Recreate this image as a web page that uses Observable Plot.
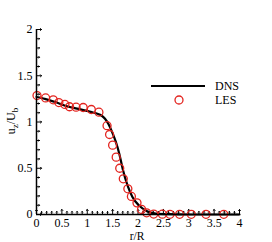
<!DOCTYPE html>
<html><head><meta charset="utf-8">
<script src="https://cdn.jsdelivr.net/npm/d3@7"></script>
<script src="https://cdn.jsdelivr.net/npm/@observablehq/plot@0.6"></script>
<style>body{margin:0;background:#fff}</style>
</head><body><div id="chart"></div>
<script>
const dnsR = [0, 0.1, 0.2, 0.4, 0.6, 0.8, 1.0, 1.1, 1.2, 1.28, 1.35, 1.42, 1.49, 1.56, 1.63, 1.70, 1.79, 1.89, 2.02, 2.18, 2.35, 2.6, 3.0, 3.5, 4.0];
const dnsU = [1.27, 1.26, 1.245, 1.21, 1.17, 1.145, 1.12, 1.105, 1.09, 1.07, 1.035, 0.975, 0.89, 0.79, 0.66, 0.49, 0.32, 0.19, 0.097, 0.036, 0.01, 0.003, 0, 0, 0];
const lesR = [0.01, 0.18, 0.33, 0.44, 0.56, 0.65, 0.78, 0.92, 1.08, 1.23, 1.39, 1.44, 1.50, 1.57, 1.64, 1.71, 1.80, 1.87, 1.98, 2.07, 2.17, 2.31, 2.48, 2.63, 2.82, 3.05, 3.34, 3.69];
const lesU = [1.286, 1.26, 1.24, 1.21, 1.19, 1.165, 1.16, 1.157, 1.135, 1.106, 0.96, 0.865, 0.75, 0.62, 0.50, 0.386, 0.278, 0.195, 0.126, 0.055, 0.018, 0.005, 0.003, 0.002, 0.002, 0.002, 0.002, 0.002];
const xMajor = [0, 0.5, 1, 1.5, 2, 2.5, 3, 3.5, 4];
const xMinor = d3.range(0, 40).map(i => i / 10).filter(v => Math.abs(v * 2 - Math.round(v * 2)) > 1e-6);
const yMajor = [0, 0.5, 1, 1.5, 2];
const yMinor = d3.range(0, 20).map(i => i / 10).filter(v => Math.abs(v * 2 - Math.round(v * 2)) > 1e-6);
const seriesNames = ["DNS", "LES"];

const dns = dnsR.map((r, i) => ({r, u: dnsU[i]}));
const les = lesR.map((r, i) => ({r, u: lesU[i]}));
const red = "#e3241f";
const font = "'Liberation Serif', 'Times New Roman', serif";

const plot = Plot.plot({
  width: 272, height: 242,
  marginLeft: 36, marginRight: 33, marginTop: 29, marginBottom: 28,
  style: {fontFamily: font, fontSize: "12px", background: "white"},
  x: {domain: [0, 4], axis: null},
  y: {domain: [0, 2], axis: null},
  marks: [
    Plot.vector(xMajor, {x: d => d, y: 0, length: 5, rotate: 0, anchor: "start", stroke: "black", strokeWidth: 1}),
    Plot.vector(xMinor, {x: d => d, y: 0, length: 3, rotate: 0, anchor: "start", stroke: "black", strokeWidth: 1}),
    Plot.vector(yMajor, {x: 0, y: d => d, length: 5, rotate: 90, anchor: "start", stroke: "black", strokeWidth: 1}),
    Plot.vector(yMinor, {x: 0, y: d => d, length: 3, rotate: 90, anchor: "start", stroke: "black", strokeWidth: 1}),
    Plot.text(xMajor, {x: d => d, y: 0, text: d => String(d), dy: 8.5, fontSize: 12, fill: "black", fontFamily: font}),
    Plot.text(yMajor, {x: 0, y: d => d, text: d => String(d), dx: -4, textAnchor: "end", fontSize: 12, fill: "black", fontFamily: font}),
    Plot.line(dns, {x: "r", y: "u", stroke: "black", strokeWidth: 2.2, curve: "monotone-x"}),
    Plot.dot(les, {x: "r", y: "u", r: 4, stroke: red, strokeWidth: 1.3, fill: "none"}),
    Plot.ruleX([0], {stroke: "black", strokeWidth: 1.5}),
    Plot.ruleY([0], {stroke: "black", strokeWidth: 1.5})
  ]
});

const svg = d3.select(plot);
// y label u_z/U_b
const yl = svg.append("text")
  .attr("transform", "translate(15,121) rotate(-90)")
  .attr("text-anchor", "middle")
  .attr("font-family", font).attr("font-size", 12).attr("fill", "black");
yl.append("tspan").text("u");
yl.append("tspan").attr("font-size", 9).attr("dy", 3).text("z");
yl.append("tspan").attr("dy", -3).text("/U");
yl.append("tspan").attr("font-size", 9).attr("dy", 3).text("b");
// x label
svg.append("text").attr("x", 137).attr("y", 239.5).attr("text-anchor", "middle")
  .attr("font-family", font).attr("font-size", 11.5).attr("fill", "black").text("r/R");
// legend
const lg = svg.append("g").attr("font-family", font).attr("font-size", 12).attr("text-anchor", "start");
lg.append("line").attr("x1", 151).attr("x2", 205).attr("y1", 86).attr("y2", 86)
  .attr("stroke", "black").attr("stroke-width", 2.2);
lg.append("circle").attr("cx", 179).attr("cy", 100).attr("r", 4)
  .attr("fill", "none").attr("stroke", red).attr("stroke-width", 1.3);
lg.append("text").attr("x", 215).attr("y", 86).attr("dy", "0.35em").text(seriesNames[0]);
lg.append("text").attr("x", 215).attr("y", 100).attr("dy", "0.35em").text(seriesNames[1]);

document.getElementById("chart").appendChild(plot);
</script></body></html>
